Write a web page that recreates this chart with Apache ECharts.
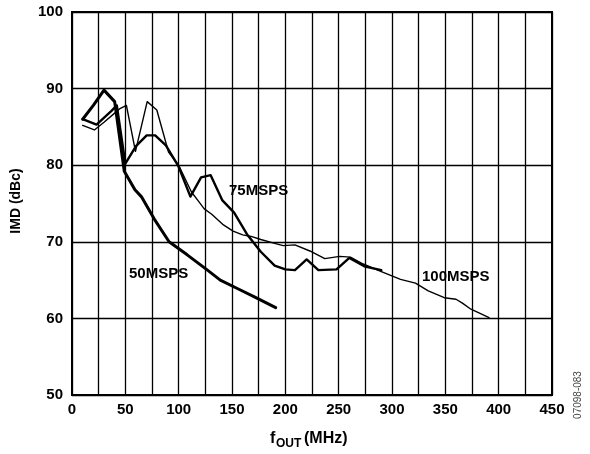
<!DOCTYPE html>
<html>
<head>
<meta charset="utf-8">
<script src="https://cdn.jsdelivr.net/npm/echarts@6/dist/echarts.min.js"></script>
<style>
html,body{margin:0;padding:0;background:#fff;}
#c{width:590px;height:454px;}
</style>
</head>
<body>
<div id="c"></div>
<script>
// ---- data ----
const xTicks = [0, 50, 100, 150, 200, 250, 300, 350, 400, 450];
const yTicks = [50, 60, 70, 80, 90, 100];

const f50   = [10, 20, 30, 40, 49, 59, 65, 77, 91, 108, 127, 139, 155, 171, 191];
const imd50 = [86, 87.8, 89.8, 88.3, 79.2, 76.8, 75.9, 73, 70, 68.3, 66.3, 65, 63.9, 62.8, 61.4];

const f75   = [10, 23, 37, 42, 50, 60, 70, 78, 88, 100, 111, 121, 130, 141, 152, 164, 177, 190, 200, 209, 220, 231, 248, 260, 274, 290];
const imd75 = [86, 85.3, 87.1, 87.8, 80.2, 82.5, 83.9, 83.9, 82.6, 79.8, 75.9, 78.4, 78.7, 75.4, 73.8, 71, 68.7, 66.9, 66.4, 66.3, 67.7, 66.3, 66.4, 67.9, 66.8, 66.3];

const f100   = [10, 21, 30, 40, 45, 51, 59.5, 70.5, 79.5, 90.5, 100, 112, 118, 124, 131, 142, 151, 160, 168, 177, 190, 198, 209, 223, 237, 251, 261, 273, 290, 308, 322, 334, 349, 360, 366, 374, 391];
const imd100 = [85.2, 84.6, 85.6, 86.8, 87.4, 87.8, 81.8, 88.3, 87.2, 81.7, 80, 76.5, 75.4, 74.3, 73.6, 72.2, 71.4, 70.9, 70.7, 70.3, 69.8, 69.5, 69.6, 68.8, 67.8, 68.1, 68, 67.1, 66.1, 65.1, 64.6, 63.6, 62.7, 62.5, 62, 61.2, 60.1];

const seriesNames = ['50MSPS', '75MSPS', '100MSPS'];

function pairs(xs, ys) { return xs.map((x, i) => [x, ys[i]]); }

const FONT = 'Liberation Sans, Arial, sans-serif';
const chart = echarts.init(document.getElementById('c'), null, {renderer: 'canvas'});

const lineWidths = [3, 2.4, 1.4];
const dataSets = [pairs(f50, imd50), pairs(f75, imd75), pairs(f100, imd100)];

chart.setOption({
  animation: false,
  backgroundColor: '#fff',
  grid: {left: 72, right: 38, top: 12, bottom: 59, show: true, borderColor: '#000', borderWidth: 2, backgroundColor: 'transparent'},
  xAxis: {
    type: 'value', min: 0, max: 450, interval: 25,
    axisLine: {show: false}, axisTick: {show: false},
    splitLine: {show: true, lineStyle: {color: '#000', width: 1.3}},
    axisLabel: {
      margin: 7, color: '#000', fontFamily: FONT, fontWeight: 'bold', fontSize: 15,
      formatter: v => (xTicks.indexOf(v) >= 0 ? String(v) : '')
    }
  },
  yAxis: {
    type: 'value', min: 50, max: 100, interval: 10,
    axisLine: {show: false}, axisTick: {show: false},
    splitLine: {show: true, lineStyle: {color: '#000', width: 1.3}},
    axisLabel: {
      margin: 9, color: '#000', fontFamily: FONT, fontWeight: 'bold', fontSize: 15,
      formatter: v => (yTicks.indexOf(v) >= 0 ? String(v) : '')
    }
  },
  series: dataSets.map((d, i) => ({
    name: seriesNames[i], type: 'line', data: d, showSymbol: false, symbol: 'none',
    smooth: false, lineStyle: {color: '#000', width: lineWidths[i], join: 'round', cap: 'round'}
  })),
  graphic: [
    {type: 'text', left: 229, top: 183, style: {text: seriesNames[1], fill: '#000', font: 'bold 15px ' + FONT}},
    {type: 'text', left: 129, top: 266, style: {text: seriesNames[0], fill: '#000', font: 'bold 15px ' + FONT}},
    {type: 'text', left: 422, top: 269, style: {text: seriesNames[2], fill: '#000', font: 'bold 15px ' + FONT}},
    {type: 'text', x: 16, y: 201, rotation: Math.PI / 2,
      style: {text: 'IMD (dBc)', fill: '#000', font: 'bold 14px ' + FONT, align: 'center', verticalAlign: 'middle'}},
    {type: 'text', x: 270, y: 439, style: {text: 'f', fill: '#000', font: 'bold 16px ' + FONT, verticalAlign: 'middle'}},
    {type: 'text', x: 276, y: 444, style: {text: 'OUT', fill: '#000', font: 'bold 12px ' + FONT, verticalAlign: 'middle'}},
    {type: 'text', x: 304, y: 439, style: {text: '(MHz)', fill: '#000', font: 'bold 16px ' + FONT, verticalAlign: 'middle'}},
    {type: 'text', x: 578, y: 395, rotation: Math.PI / 2,
      style: {text: '07098-083', fill: '#444', font: '10px ' + FONT, align: 'center', verticalAlign: 'middle'}}
  ]
});
</script>
</body>
</html>
